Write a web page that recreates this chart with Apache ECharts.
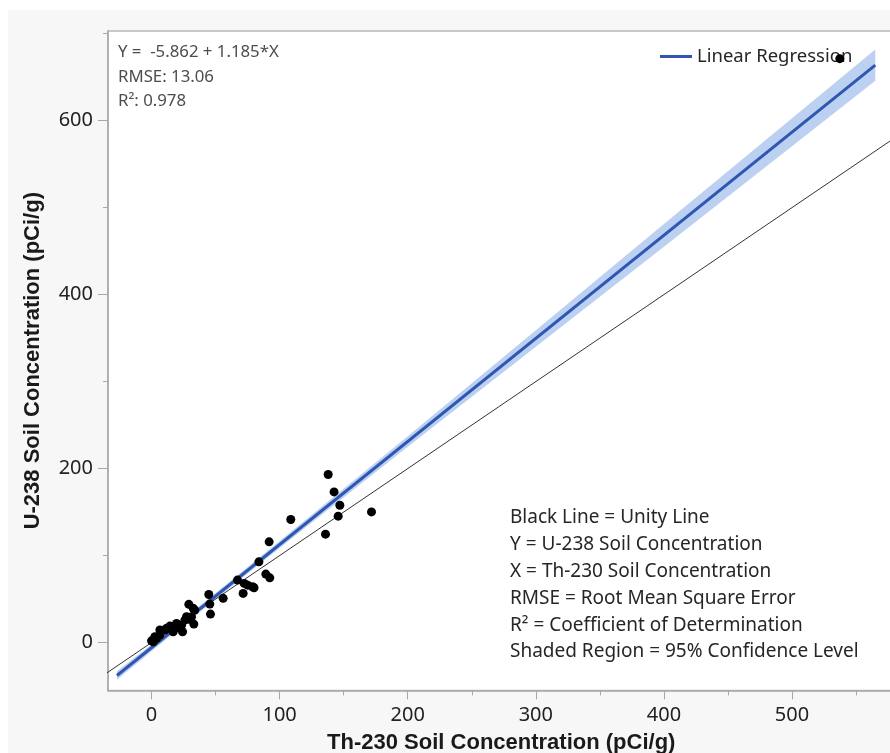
<!DOCTYPE html>
<html>
<head>
<meta charset="utf-8">
<script src="https://cdn.jsdelivr.net/npm/echarts@6/dist/echarts.min.js"></script>
<style>
html,body{margin:0;padding:0;background:#fff;}
#c{width:890px;height:753px;}
</style>
</head>
<body>
<div id="c"></div>
<script>
// Th-230 (x) and U-238 (y) soil concentrations, pCi/g
const thX = [137.9,142.5,147.0,145.7,135.8,171.7,108.7,91.8,83.8,89.2,92.3,67.1,72.3,78.8,75.0,80.0,71.5,55.9,44.7,45.5,46.0,29.1,32.5,31.2,33.0,26.0,24.2,19.5,15.6,11.7,6.5,6.5,2.6,0.0,16.9,23.4,1.3,3.9,10.4,14.3,27.3,29.9,33.8,22.1,537.3];
const u238Y = [193.2,173.2,157.9,145.3,124.6,150.2,141.5,115.8,92.8,78.7,74.4,71.8,68.0,64.1,66.0,63.0,56.5,50.8,55.3,44.2,32.7,43.9,39.3,29.6,21.2,25.8,12.4,22.0,18.1,16.3,14.4,8.6,6.7,2.0,12.4,20.0,0.9,4.8,14.4,18.9,29.6,26.6,37.3,16.3,671.2];

// Fitted line Y = -5.862 + 1.185*X (end points as drawn)
const fitX = [-27, 565];
const fitY = [-37.9, 663.7];

// 95% confidence band (read from the shaded region)
const bandX = [-27, 0, 50, 100, 200, 300, 400, 500, 565];
const bandLower = [-42.9, -9.9, 49.9, 108.6, 225.1, 340.1, 455.1, 570.6, 645.7];
const bandUpper = [-32.9, -1.9, 56.9, 116.6, 237.1, 359.1, 481.1, 602.6, 681.7];

// Unity line y = x
const unityX = [-40, 620];
const unityY = [-40, 620];

const xMajorTicks = [0, 100, 200, 300, 400, 500];
const xMinorTicks = [50, 150, 250, 350, 450, 550];
const yMajorTicks = [0, 200, 400, 600];
const yMinorTicks = [100, 300, 500, 700];

const statLines = ['Y =  -5.862 + 1.185*X', 'RMSE: 13.06', 'R\u00B2: 0.978'];
const noteLines = ['Black Line = Unity Line', 'Y = U-238 Soil Concentration', 'X = Th-230 Soil Concentration', 'RMSE = Root Mean Square Error', 'R\u00B2 = Coefficient of Determination', 'Shaded Region = 95% Confidence Level'];

const labelFont = '"Noto Sans", "Open Sans", sans-serif';
const titleFont = '"Liberation Sans", Arial, sans-serif';
const axisGray = '#a9a9a9';

const chart = echarts.init(document.getElementById('c'), null, {renderer: 'canvas'});

const points = thX.map((x, i) => [x, u238Y[i]]);
const fitData = fitX.map((x, i) => [x, fitY[i]]);
const unityData = unityX.map((x, i) => [x, unityY[i]]);
const bandData = bandX.map((x, i) => [x, bandLower[i], bandUpper[i]]);

const graphics = [
  {type: 'rect', silent: true, z: -10, shape: {x: 8, y: 10, width: 900, height: 760}, style: {fill: '#f7f7f7'}}
];
statLines.forEach((t, i) => graphics.push({
  type: 'text', x: 118, y: 52.5 + i * 24.5, z: 50,
  style: {text: t, font: '16.8px ' + labelFont, fill: '#4d4d4d', verticalAlign: 'middle'}
}));
noteLines.forEach((t, i) => graphics.push({
  type: 'text', x: 510, y: 518 + i * 26.8, z: 50,
  style: {text: t, font: '19px ' + labelFont, fill: '#262626', verticalAlign: 'middle'}
}));

const option = {
  animation: false,
  backgroundColor: 'transparent',
  grid: {
    left: 108, top: 31, width: 786.5, height: 659.4, outerBoundsMode: 'none', containLabel: false,
    show: true, backgroundColor: '#ffffff', borderColor: '#b8b8b8', borderWidth: 1.5
  },
  legend: {
    left: 655, top: 42, itemWidth: 32, itemHeight: 3, icon: 'rect',
    textStyle: {fontFamily: labelFont, fontSize: 18.5, color: '#262626'},
    data: [{name: 'Linear Regression', itemStyle: {color: '#2f56b0'}}]
  },
  xAxis: [{
    type: 'value', min: -34, max: 580,
    name: 'Th-230 Soil Concentration (pCi/g)', nameLocation: 'middle', nameGap: 42,
    nameTextStyle: {fontFamily: titleFont, fontWeight: 'bold', fontSize: 22, color: '#1a1a1a'},
    axisLine: {show: true, onZero: false, lineStyle: {color: axisGray, width: 1.5}},
    axisTick: {show: true, customValues: xMajorTicks, length: 9, lineStyle: {color: axisGray}},
    axisLabel: {customValues: xMajorTicks, margin: 15, fontFamily: labelFont, fontSize: 20, color: '#222'},
    splitLine: {show: false}
  }, {
    type: 'value', min: -34, max: 580, position: 'bottom',
    axisLine: {show: false, onZero: false},
    axisTick: {show: true, customValues: xMinorTicks, length: 5, lineStyle: {color: axisGray}},
    axisLabel: {show: false}, splitLine: {show: false}
  }],
  yAxis: [{
    type: 'value', min: -55, max: 703,
    name: 'U-238 Soil Concentration (pCi/g)', nameLocation: 'middle', nameGap: 64,
    nameTextStyle: {fontFamily: titleFont, fontWeight: 'bold', fontSize: 22, color: '#1a1a1a'},
    axisLine: {show: true, onZero: false, lineStyle: {color: axisGray, width: 1.5}},
    axisTick: {show: true, customValues: yMajorTicks, length: 10, lineStyle: {color: axisGray}},
    axisLabel: {customValues: yMajorTicks, margin: 15, fontFamily: labelFont, fontSize: 20, color: '#222'},
    splitLine: {show: false}
  }, {
    type: 'value', min: -55, max: 703, position: 'left',
    axisLine: {show: false, onZero: false},
    axisTick: {show: true, customValues: yMinorTicks, length: 5, lineStyle: {color: axisGray}},
    axisLabel: {show: false}, splitLine: {show: false}
  }],
  series: [
    {
      type: 'custom', name: 'band', xAxisIndex: 0, yAxisIndex: 0, clip: true, z: 1,
      data: [0],
      renderItem: function (params, api) {
        const upper = bandData.map(d => api.coord([d[0], d[2]]));
        const lower = bandData.slice().reverse().map(d => api.coord([d[0], d[1]]));
        return {type: 'polygon', shape: {points: upper.concat(lower)}, style: {fill: '#bcd0f2', stroke: 'none'}};
      }
    },
    {
      type: 'line', name: 'Unity', data: unityData, showSymbol: false, symbol: 'none', clip: true, z: 2,
      lineStyle: {color: '#333333', width: 1}
    },
    {
      type: 'line', name: 'Linear Regression', data: fitData, symbol: 'none', clip: true, z: 3,
      lineStyle: {color: '#2f56b0', width: 3}, itemStyle: {color: '#2f56b0'}
    },
    {
      type: 'scatter', name: 'Data', data: points, symbol: 'circle', symbolSize: 9, z: 4,
      itemStyle: {color: '#000000', opacity: 1}
    }
  ],
  graphic: graphics
};
chart.setOption(option);
</script>
</body>
</html>
